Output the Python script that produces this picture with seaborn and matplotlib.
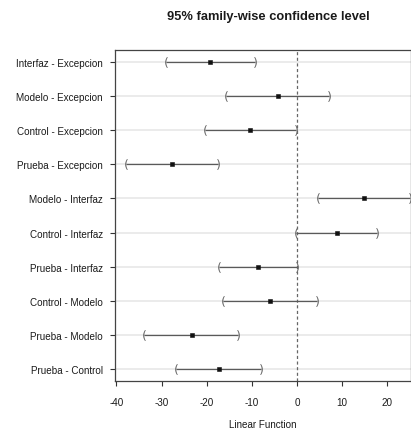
import numpy as np
import matplotlib
matplotlib.use("Agg")
import matplotlib.pyplot as plt
import seaborn as sns

comparisons = ['Interfaz - Excepcion', 'Modelo - Excepcion', 'Control - Excepcion',
               'Prueba - Excepcion', 'Modelo - Interfaz', 'Control - Interfaz',
               'Prueba - Interfaz', 'Control - Modelo', 'Prueba - Modelo',
               'Prueba - Control']
estimate = [-19.3, -4.2, -10.4, -27.6, 14.9, 8.9, -8.7, -6.0, -23.3, -17.3]
lower = [-29.1, -15.8, -20.4, -37.8, 4.7, -0.2, -17.3, -16.4, -33.8, -26.7]
upper = [-9.3, 7.1, -0.2, -17.6, 25.1, 17.8, 0.0, 4.4, -13.1, -8.0]
xticks = [-40, -30, -20, -10, 0, 10, 20]

sns.set_style("white")
plt.rcParams['font.family'] = ['Liberation Sans', 'DejaVu Sans']

fig = plt.figure(figsize=(4.11, 4.31), dpi=100)
ax = fig.add_axes([115 / 411, 49 / 431, 296 / 411, 331 / 431])

pos = np.arange(len(comparisons))
dark = '#5a5a5a'

# light horizontal guide lines
for p in pos:
    ax.axhline(p, color='#e8e8e8', lw=1.2, zorder=0)

ax.axvline(0, color='#666666', lw=0.9, ls=(0, (2.5, 2)), zorder=1)

ax.hlines(pos, lower, upper, color=dark, lw=0.9, zorder=2)
ax.scatter(lower, pos, marker='$($', s=60, color='#666666', linewidths=0, zorder=3)
ax.scatter(upper, pos, marker='$)$', s=60, color='#666666', linewidths=0, zorder=3)
sns.scatterplot(x=estimate, y=pos, ax=ax, marker='s', s=8, color='#111111',
                edgecolor='#111111', linewidth=0.4, zorder=4)

ax.set_xlim(-40.33, 25.3)
ax.set_ylim(len(comparisons) - 1 + 0.36, -0.36)
ax.set_yticks(pos)
ax.set_yticklabels(comparisons)
ax.set_xticks(xticks)
ax.set_xticklabels([str(t) for t in xticks])
ax.tick_params(axis='both', which='major', length=3.8, width=0.8, color='#333333',
               labelsize=7.1, labelcolor='#1a1a1a', left=True, bottom=True)
ax.tick_params(axis='y', pad=5)
ax.tick_params(axis='x', pad=8)

for side in ['top', 'right', 'left', 'bottom']:
    ax.spines[side].set_color('#444444')
    ax.spines[side].set_linewidth(0.9)

fig.text(268 / 411, 1 - 17 / 431, '95% family-wise confidence level',
         ha='center', va='center', fontsize=9.3, fontweight='bold', color='#1a1a1a')
fig.text(263 / 411, 1 - 425 / 431, 'Linear Function',
         ha='center', va='center', fontsize=7.1, color='#1a1a1a')

fig.savefig('out.png', dpi=100)
